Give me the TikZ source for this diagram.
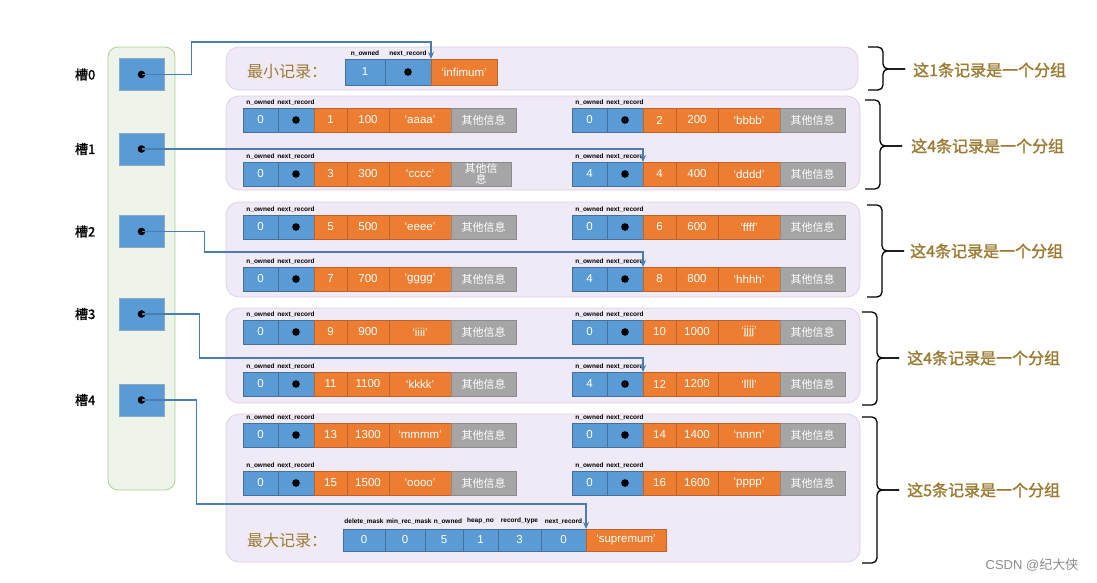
\documentclass[tikz,border=0pt]{standalone}
\usepackage{fontspec}
\setmainfont{Liberation Sans}
\newfontfamily\cjk[AutoFakeBold=1.5]{Noto Sans CJK SC}
\usepackage{tikz}
\usetikzlibrary{positioning,arrows.meta}
\definecolor{cellblue}{HTML}{5B9BD5}
\definecolor{cellblueline}{HTML}{41719C}
\definecolor{cellorange}{HTML}{ED7D31}
\definecolor{cellorangeline}{HTML}{C0602A}
\definecolor{cellgray}{HTML}{A5A5A5}
\definecolor{cellgrayline}{HTML}{8C8C8C}
\definecolor{groupfill}{HTML}{EFEAF5}
\definecolor{groupline}{HTML}{DCD0EA}
\definecolor{slotfill}{HTML}{EFF4EA}
\definecolor{slotline}{HTML}{A9D18E}
\definecolor{labelbrown}{HTML}{9C7B34}
\definecolor{linkblue}{HTML}{4A7DB0}

\begin{document}
\begin{tikzpicture}[x=1pt, y=-1pt, node distance=0pt,
				bluecell/.style={
				% The shape:
				rectangle, inner sep=0pt, outer sep=0pt,
				% The size:
				minimum height=24pt, minimum width=35pt,
				% The border:
				draw=cellblueline,
				% The filling:
				fill=cellblue, text=white,
				font=\fontsize{11.5}{12}\selectfont
				},
				orangecell/.style={
				bluecell, draw=cellorangeline, fill=cellorange
				},
				graycell/.style={
				bluecell, draw=cellgrayline, fill=cellgray,
				align=center, font=\cjk\fontsize{11}{11}\selectfont
				},
				fieldlabel/.style={
				inner sep=0pt, anchor=south,
				font=\fontsize{6.5}{7}\selectfont\bfseries
				},
				group/.style={
				draw=groupline, fill=groupfill, rounded corners=13pt, line width=0.8pt
				},
				slotcol/.style={
				draw=slotline, fill=slotfill, rounded corners=10pt, line width=0.8pt
				},
				slotbox/.style={
				rectangle, draw=cellblueline!60, fill=cellblue,
				minimum width=45pt, minimum height=32pt
				},
				slotlabel/.style={font=\cjk\bfseries\fontsize{13}{14}\selectfont},
				recname/.style={text=labelbrown, font=\cjk\fontsize{16}{17}\selectfont},
				grouplabel/.style={text=labelbrown, anchor=west, inner sep=0pt,
				font=\cjk\bfseries\fontsize{16}{17}\selectfont},
				bracket/.style={line width=1.3pt, rounded corners=5pt},
				link/.style={draw=linkblue, line width=1.3pt, -{Stealth[length=7pt,width=6pt]}}
				]
    \useasboundingbox (0,0) rectangle (1097,582);

    % slot column
    \draw[slotcol] (108,47) rectangle (175,490);
    \node[slotbox] (s0) at (141.5,74.5) {};
    \node[slotbox] (s1) at (141.5,149) {};
    \node[slotbox] (s2) at (141.5,231.5) {};
    \node[slotbox] (s3) at (141.5,314) {};
    \node[slotbox] (s4) at (141.5,400) {};
    \node[slotlabel, left=20pt of s0] (l0) {槽0};
    \node[slotlabel, left=20pt of s1] (l1) {槽1};
    \node[slotlabel, left=20pt of s2] (l2) {槽2};
    \node[slotlabel, left=20pt of s3] (l3) {槽3};
    \node[slotlabel, left=20pt of s4] (l4) {槽4};
    \foreach \i in {0,...,4} \fill (s\i.center) circle (3.8pt);

    % groups
    \draw[group] (226,47) rectangle (858,90);
    \draw[group] (226,96) rectangle (860,190);
    \draw[group] (226,202) rectangle (860,297);
    \draw[group] (226,308) rectangle (860,403);
    \draw[group] (226,414) rectangle (860,562);

    % infimum
    \node[recname] (minrec) at (287,72) {最小记录：};
    \node[bluecell, minimum width=40pt, minimum height=26pt, anchor=west] (inf-own) at (345,72) {1};
    \node[bluecell, minimum width=46pt, minimum height=26pt, right=of inf-own] (inf-nxt) {};
    \node[orangecell, minimum width=66pt, minimum height=26pt, right=of inf-nxt] (inf-str) {`infimum'};
    \fill (inf-nxt.center) circle (3.8pt);
    \node[fieldlabel] (inf-l1) at ([yshift=3pt]inf-own.north) {n\_owned};
    \node[fieldlabel] (inf-l2) at ([yshift=3pt]inf-nxt.north) {next\_record};

    % user records
    \foreach \n/\x/\y/\o/\h/\k/\s/\g/\t in {
        a/243/120/0/1/100/aaaa/65/其他信息, b/572/120/0/2/200/bbbb/65/其他信息,
        c/243/174/0/3/300/cccc/60/{其他信\\息}, d/572/174/4/4/400/dddd/65/其他信息,
        e/243/227/0/5/500/eeee/65/其他信息, f/572/227/0/6/600/ffff/65/其他信息,
        g/243/279/0/7/700/gggg/65/其他信息, h/572/279/4/8/800/hhhh/65/其他信息,
        i/243/332/0/9/900/iiii/65/其他信息, j/572/332/0/10/1000/jjjj/65/其他信息,
        k/243/384/0/11/1100/kkkk/65/其他信息, l/572/384/4/12/1200/llll/65/其他信息,
        m/243/435/0/13/1300/mmmm/65/其他信息, n/572/435/0/14/1400/nnnn/65/其他信息,
        o/243/483/0/15/1500/oooo/65/其他信息, p/572/483/0/16/1600/pppp/65/其他信息} {
      \node[bluecell, anchor=west] (r\n-own) at (\x,\y) {\o};
      \node[bluecell, minimum width=36pt, right=of r\n-own] (r\n-nxt) {};
      \node[orangecell, minimum width=33pt, right=of r\n-nxt] (r\n-hp) {\h};
      \node[orangecell, minimum width=42pt, right=of r\n-hp] (r\n-key) {\k};
      \node[orangecell, minimum width=62pt, right=of r\n-key] (r\n-str) {`\s'};
      \node[graycell, minimum width=\g pt, right=of r\n-str] (r\n-oth) {\t};
      \fill (r\n-nxt.center) circle (3.8pt);
      \node[fieldlabel] (r\n-l1) at ([yshift=3pt]r\n-own.north) {n\_owned};
      \node[fieldlabel] (r\n-l2) at ([yshift=3pt]r\n-nxt.north) {next\_record};
    }

    % supremum
    \node[recname] (maxrec) at (287,540) {最大记录：};
    \node[bluecell, minimum width=42pt, minimum height=22pt, anchor=west] (sup-del) at (343,540) {0};
    \node[bluecell, minimum width=40pt, minimum height=22pt, right=of sup-del] (sup-min) {0};
    \node[bluecell, minimum width=38pt, minimum height=22pt, right=of sup-min] (sup-own) {5};
    \node[bluecell, minimum width=35pt, minimum height=22pt, right=of sup-own] (sup-heap) {1};
    \node[bluecell, minimum width=43pt, minimum height=22pt, right=of sup-heap] (sup-type) {3};
    \node[bluecell, minimum width=45pt, minimum height=22pt, right=of sup-type] (sup-nxt) {0};
    \node[orangecell, minimum width=80pt, minimum height=22pt, right=of sup-nxt] (sup-str) {`supremum'};
    \node[fieldlabel] (sup-l1) at ([yshift=5pt]sup-del.north) {delete\_mask};
    \node[fieldlabel] (sup-l2) at ([xshift=4pt,yshift=5pt]sup-min.north) {min\_rec\_mask};
    \node[fieldlabel] (sup-l3) at ([xshift=4pt,yshift=5pt]sup-own.north) {n\_owned};
    \node[fieldlabel] (sup-l4) at ([yshift=5pt]sup-heap.north) {heap\_no};
    \node[fieldlabel] (sup-l5) at ([yshift=5pt]sup-type.north) {record\_type};
    \node[fieldlabel] (sup-l6) at ([yshift=5pt]sup-nxt.north) {next\_record};

    % slot pointers
    \draw[link] (s0.center) -- ++(50,0) |- ([yshift=17pt]inf-nxt.north east) -- (inf-nxt.north east);
    \draw[link] (s1.center) -| (rd-nxt.north east);
    \draw[link] (s2.center) -- ++(63,0) |- ([yshift=15pt]rh-nxt.north east) -- (rh-nxt.north east);
    \draw[link] (s3.center) -- ++(58,0) |- ([yshift=14pt]rl-nxt.north east) -- (rl-nxt.north east);
    \draw[link] (s4.center) -- ++(55,0) |- ([yshift=25pt]sup-nxt.north east) -- (sup-nxt.north east);

    % braces
    \foreach \t/\b/\m/\x in {47/90/69/883, 100/189/146/880, 205/297/251/882, 312/405/358/877, 417/563/490/877} {
      \draw[bracket] (\x-15,\t) -- (\x,\t) -- (\x,\m) -- (\x+22,\m);
      \draw[bracket] (\x-15,\b) -- (\x,\b) -- (\x,\m) -- (\x+22,\m);
    }
    \node[grouplabel] (g0) at (913,70) {这1条记录是一个分组};
    \node[grouplabel] (g1) at (911,146) {这4条记录是一个分组};
    \node[grouplabel] (g2) at (910,251) {这4条记录是一个分组};
    \node[grouplabel] (g3) at (907,358) {这4条记录是一个分组};
    \node[grouplabel] (g4) at (907,490) {这5条记录是一个分组};

    \node[text=black!45, font=\fontsize{13}{14}\selectfont] (wm) at (1032,565) {CSDN @{\cjk 纪大侠}};
\end{tikzpicture}
\end{document}
